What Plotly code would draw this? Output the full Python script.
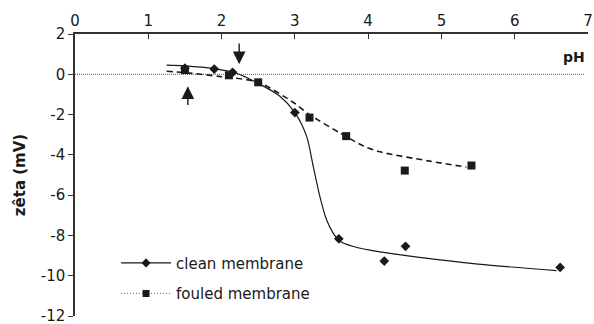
import plotly.graph_objects as go

# Measured zeta potential (mV) versus pH
clean_ph = [1.5, 1.9, 2.15, 3.0, 3.6, 4.22, 4.51, 6.62]
clean_zeta = [0.3, 0.26, 0.1, -1.9, -8.17, -9.27, -8.54, -9.59]

fouled_ph = [1.5, 2.1, 2.5, 3.2, 3.7, 4.5, 5.41]
fouled_zeta = [0.21, -0.05, -0.4, -2.15, -3.07, -4.78, -4.53]

# Smoothed trend curves
clean_fit_ph = [1.25, 1.5, 1.9, 2.2, 2.5, 2.8, 3.0, 3.16, 3.25, 3.34, 3.43, 3.52, 3.62, 3.8, 4.16, 4.52, 5.5, 6.57]
clean_fit_zeta = [0.45, 0.42, 0.28, 0.05, -0.45, -1.1, -1.9, -3.07, -4.56, -6.05, -7.2, -7.87, -8.3, -8.55, -8.82, -9.0, -9.42, -9.75]

fouled_fit_ph = [1.25, 1.5, 2.0, 2.5, 3.0, 3.2, 3.61, 3.93, 4.16, 4.84, 5.34]
fouled_fit_zeta = [0.15, 0.08, -0.12, -0.4, -1.45, -2.0, -2.9, -3.55, -3.85, -4.31, -4.61]

x_ticks = [0, 1, 2, 3, 4, 5, 6, 7]
y_ticks = [2, 0, -2, -4, -6, -8, -10, -12]
y_tick_labels = ["2", "0", "-2", "-4", "-6", "-8", "-10", "-12"]

INK = "#1a1a1a"
FONT = "DejaVu Sans, Liberation Sans, Arial, sans-serif"

fig = go.Figure()

# zero reference line
fig.add_trace(go.Scatter(x=[0, 6.96], y=[0, 0], mode="lines",
                         line=dict(color="#555", width=1, dash="1px,1px"),
                         showlegend=False, hoverinfo="skip"))

fig.add_trace(go.Scatter(x=clean_fit_ph, y=clean_fit_zeta, mode="lines",
                         line=dict(color=INK, width=1.2, shape="spline", smoothing=0.8),
                         showlegend=False))
fig.add_trace(go.Scatter(x=fouled_fit_ph, y=fouled_fit_zeta, mode="lines",
                         line=dict(color=INK, width=1.6, dash="6px,4px", shape="spline", smoothing=0.8),
                         showlegend=False))

fig.add_trace(go.Scatter(x=clean_ph, y=clean_zeta, mode="markers",
                         marker=dict(symbol="diamond", size=7.5, color=INK),
                         showlegend=False))
fig.add_trace(go.Scatter(x=fouled_ph, y=fouled_zeta, mode="markers",
                         marker=dict(symbol="square", size=8, color=INK),
                         showlegend=False))

# legend entries
fig.add_trace(go.Scatter(x=[None], y=[None], mode="lines+markers", name="clean membrane",
                         legendgroup="a",
                         line=dict(color=INK, width=1.2),
                         marker=dict(symbol="diamond", size=7, color=INK)))
fig.add_trace(go.Scatter(x=[None], y=[None], mode="lines+markers", name="fouled membrane",
                         legendgroup="b",
                         line=dict(color="#666", width=1, dash="1px,2px"),
                         marker=dict(symbol="square", size=7, color=INK)))

# arrows marking the isoelectric points
fig.add_annotation(x=2.24, y=0.5, ax=2.24, ay=1.6, xref="x", yref="y", axref="x", ayref="y",
                   showarrow=True, arrowhead=2, arrowsize=1.8, arrowwidth=1.4, arrowcolor=INK, text="")
fig.add_annotation(x=1.54, y=-0.6, ax=1.54, ay=-1.6, xref="x", yref="y", axref="x", ayref="y",
                   showarrow=True, arrowhead=2, arrowsize=1.8, arrowwidth=1.4, arrowcolor=INK, text="")

fig.add_annotation(x=6.98, y=0.85, xref="x", yref="y", xanchor="right", yanchor="middle",
                   text="<b>pH</b>", showarrow=False, font=dict(size=14, color=INK, family=FONT))

fig.update_xaxes(range=[0, 7], side="top", tickvals=x_ticks, ticks="inside", ticklen=5,
                 tickcolor="#333", showline=True, linecolor="#333", linewidth=1.5,
                 showgrid=False, zeroline=False, tickfont=dict(size=15, color=INK, family=FONT))
fig.update_yaxes(range=[-12, 2], tickvals=y_ticks, ticktext=y_tick_labels, ticks="outside", ticklen=5,
                 tickcolor="#333", showline=True, linecolor="#333", linewidth=1.5,
                 ticklabeloverflow="allow",
                 showgrid=False, zeroline=False, tickfont=dict(size=15, color=INK, family=FONT),
                 title=dict(text="<b>zêta (mV)</b>", font=dict(size=15, color=INK, family=FONT), standoff=12))

fig.update_layout(
    width=594, height=324,
    margin=dict(l=75, r=6, t=34, b=8, autoexpand=False),
    plot_bgcolor="white", paper_bgcolor="white",
    font=dict(family=FONT, color=INK),
    legend=dict(x=0.08, y=0.246, xanchor="left", yanchor="top", bgcolor="rgba(0,0,0,0)",
                font=dict(size=15, color=INK, family=FONT), itemwidth=50, tracegroupgap=8),
)

fig.write_html("out.html")
